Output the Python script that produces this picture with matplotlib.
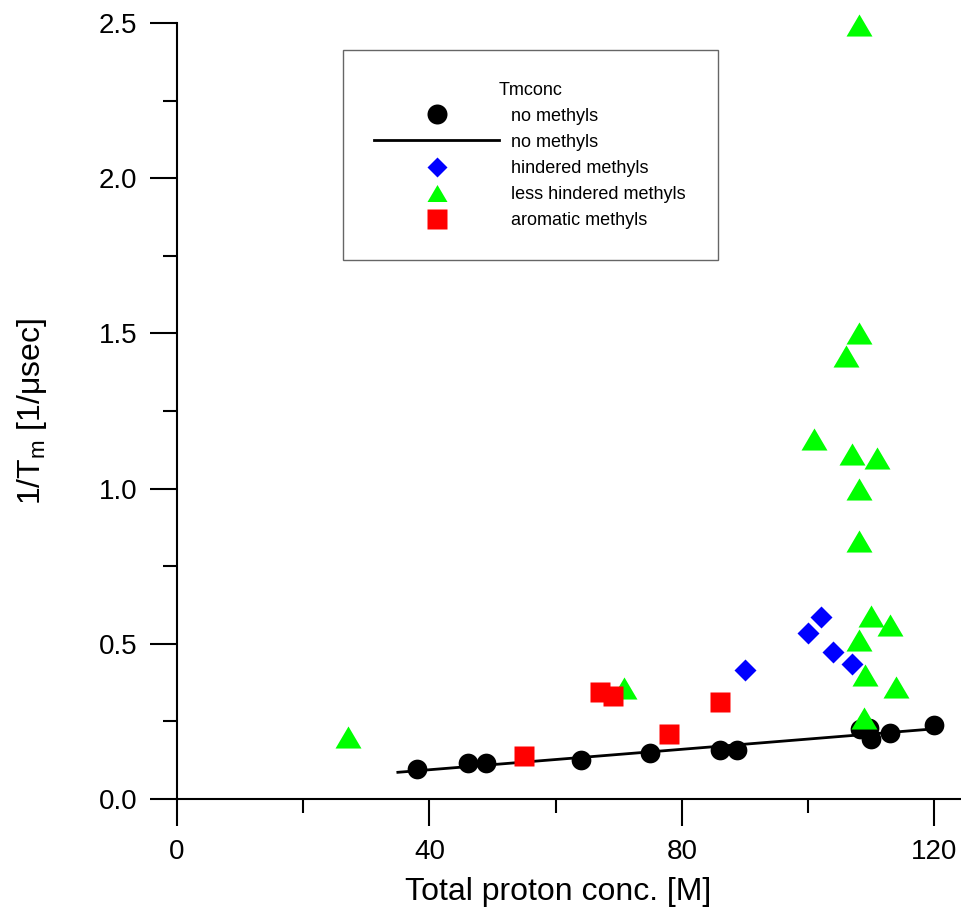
import numpy as np
import matplotlib
matplotlib.use('Agg')
import matplotlib.pyplot as plt
from matplotlib.lines import Line2D
from matplotlib.ticker import MultipleLocator, FormatStrFormatter

plt.rcParams['font.family'] = ['Liberation Sans', 'DejaVu Sans']
plt.rcParams['mathtext.fontset'] = 'custom'
plt.rcParams['mathtext.rm'] = 'Liberation Sans'
plt.rcParams['mathtext.it'] = 'Liberation Sans'

# no methyls
nometh_x = [38.1, 46.1, 49.0, 64.0, 75.0, 86.0, 88.8, 108.2, 109.7, 110.0, 113.0, 119.9]
nometh_y = [0.096, 0.117, 0.117, 0.126, 0.149, 0.158, 0.158, 0.224, 0.229, 0.193, 0.212, 0.237]

# linear fit through the no-methyl points (end points)
fit_x = [35.0, 120.0]
fit_y = [0.086, 0.226]

# hindered methyls
hind_x = [90.0, 100.0, 102.0, 104.0, 106.9]
hind_y = [0.416, 0.534, 0.587, 0.475, 0.434]

# less hindered methyls
less_x = [27.1, 70.9, 101.0, 106.0, 107.0, 108.0, 108.0, 108.0, 108.0, 108.0,
          108.9, 109.0, 109.9, 111.0, 113.0, 113.9]
less_y = [0.199, 0.357, 1.160, 1.427, 1.110, 2.495, 1.500, 0.999, 0.831, 0.513,
          0.260, 0.400, 0.590, 1.100, 0.560, 0.360]

# aromatic methyls
arom_x = [55.0, 67.0, 69.1, 78.0, 86.0]
arom_y = [0.139, 0.344, 0.332, 0.208, 0.311]

# flattened triangle marker
tri = [(-1.0, -0.85), (1.0, -0.85), (0.0, 0.85), (-1.0, -0.85)]

W, H = 962, 916
fig = plt.figure(figsize=(W / 100, H / 100), dpi=100)
ax = fig.add_axes([177 / W, (H - 799) / H, (W - 177) / W, (799 - 23) / H])

ax.plot(nometh_x, nometh_y, 'o', color='black', ms=14.2, mec='none', zorder=3, clip_on=False)
ax.plot(fit_x, fit_y, '-', color='black', lw=2.0, zorder=3)
ax.plot(hind_x, hind_y, 'D', color='#0000ff', ms=10.7, mec='none', zorder=4, clip_on=False)
ax.plot(less_x, less_y, ls='none', marker=tri, color='#00ff00', ms=18.7, mec='none',
        zorder=5, clip_on=False)
ax.plot(arom_x, arom_y, 's', color='#ff0000', ms=14.0, mec='none', zorder=6, clip_on=False)

ax.set_xlim(0, 124.4)
ax.set_ylim(0, 2.5)
for s in ['top', 'right']:
    ax.spines[s].set_visible(False)
for s in ['left', 'bottom']:
    ax.spines[s].set_linewidth(1.5)

ax.xaxis.set_major_locator(MultipleLocator(40))
ax.xaxis.set_minor_locator(MultipleLocator(20))
ax.yaxis.set_major_locator(MultipleLocator(0.5))
ax.yaxis.set_minor_locator(MultipleLocator(0.25))
ax.yaxis.set_major_formatter(FormatStrFormatter('%.1f'))
ax.tick_params(which='major', direction='out', length=19.5, width=1.5, labelsize=20, pad=9)
ax.tick_params(which='minor', direction='out', length=10, width=1.5)

ax.set_xlabel('Total proton conc. [M]', fontsize=23)
ax.xaxis.set_label_coords(0.485, -0.10)
ax.set_ylabel(r'1/T$_\mathregular{m}$ [1/μsec]', fontsize=23, va='center')
ax.yaxis.set_label_coords(-0.185, 0.5)

handles = [
    Line2D([], [], ls='none', marker='o', color='black', ms=14.4, mec='none'),
    Line2D([], [], ls='-', color='black', lw=2.0),
    Line2D([], [], ls='none', marker='D', color='#0000ff', ms=10.2, mec='none'),
    Line2D([], [], ls='none', marker=tri, color='#00ff00', ms=14.4, mec='none'),
    Line2D([], [], ls='none', marker='s', color='#ff0000', ms=14.4, mec='none'),
]
labels = ['no methyls', 'no methyls', 'hindered methyls', 'less hindered methyls', 'aromatic methyls']
leg = ax.legend(handles, labels, title='Tmconc', loc='upper left',
                bbox_to_anchor=(0.211, 0.965), borderaxespad=0,
                fontsize=13, title_fontsize=13, frameon=True, fancybox=False,
                edgecolor='#404040', handlelength=6.9, handletextpad=0.7,
                labelspacing=0.5, borderpad=1.75)
leg.get_frame().set_linewidth(1.0)

fig.savefig('out.png', dpi=100)
